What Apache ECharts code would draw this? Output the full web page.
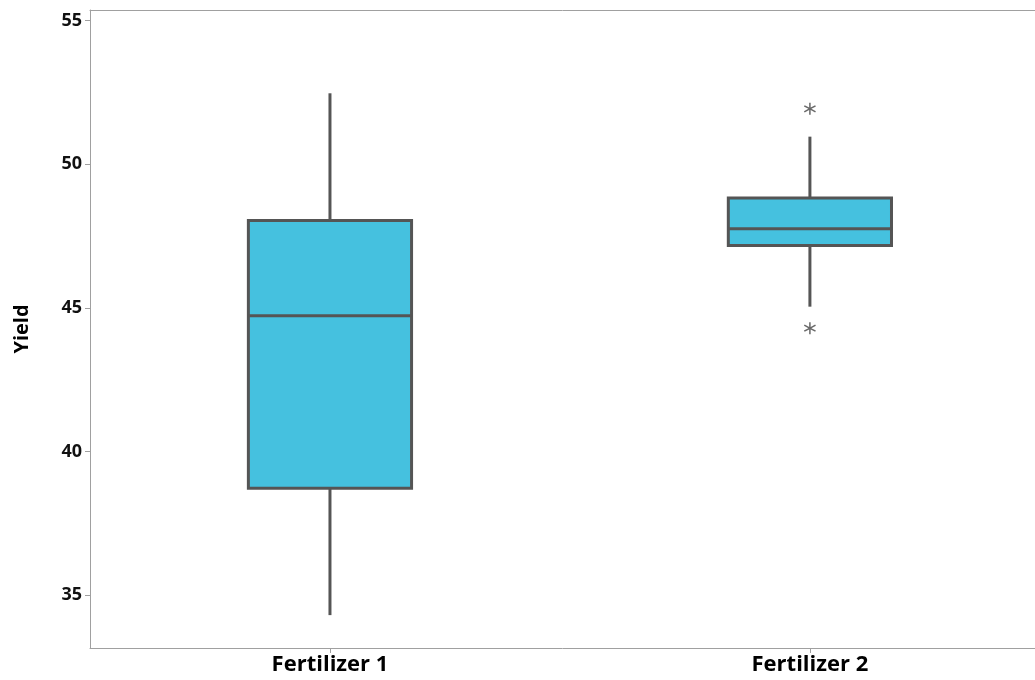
<!DOCTYPE html>
<html>
<head>
<meta charset="utf-8">
<script src="https://cdn.jsdelivr.net/npm/echarts@6/dist/echarts.min.js"></script>
<style>html,body{margin:0;padding:0;background:#fff}#c{width:1035px;height:680px}</style>
</head>
<body>
<div id="c"></div>
<script>
var categories = ['Fertilizer 1', 'Fertilizer 2'];
// [whiskerLow, Q1, median, Q3, whiskerHigh]
var boxStats = [
  [34.3, 38.72, 44.72, 48.04, 52.47],
  [45.04, 47.17, 47.75, 48.82, 50.96]
];
var outliers = [
  [1, 51.93],
  [1, 44.29]
];
var yTicks = [35, 40, 45, 50, 55];
var xTicks = [0, 1];

var boxData = boxStats.map(function (s, i) { return [i].concat(s); });
var asterisk = 'path://M5.3,0 L6.7,0 L6.7,4.8 L10.85,2.4 L11.55,3.6 L7.4,6 L11.55,8.4 L10.85,9.6 L6.7,7.2 L6.7,12 L5.3,12 L5.3,7.2 L1.15,9.6 L0.45,8.4 L4.6,6 L0.45,3.6 L1.15,2.4 L5.3,4.8 Z';

var chart = echarts.init(document.getElementById('c'), null, {renderer: 'canvas'});
var font = '"Open Sans", "Noto Sans", sans-serif';
var axisGrey = '#a0a0a0';
chart.setOption({
  backgroundColor: '#ffffff',
  animation: false,
  grid: {left: 90, top: 10, right: 0, bottom: 32, show: false},
  xAxis: [{
    type: 'value',
    min: -0.5,
    max: 1.469,
    axisLine: {show: true, onZero: false, lineStyle: {color: axisGrey, width: 1}},
    axisTick: {show: true, length: 5, lineStyle: {color: axisGrey}, customValues: xTicks},
    axisLabel: {
      color: '#000', fontSize: 22, fontWeight: 'bold', fontFamily: font, margin: 6,
      customValues: xTicks,
      formatter: function (v) { return categories[Math.round(v)] || ''; }
    },
    splitLine: {show: false}
  }, {
    type: 'value',
    position: 'top',
    min: -0.5,
    max: 1.469,
    axisLine: {show: true, onZero: false, lineStyle: {color: axisGrey, width: 1}},
    axisTick: {show: false},
    axisLabel: {show: false},
    splitLine: {show: false}
  }],
  yAxis: {
    type: 'value',
    min: 33.155,
    max: 55.37,
    name: 'Yield',
    nameLocation: 'middle',
    nameGap: 58,
    nameRotate: 90,
    nameTextStyle: {color: '#000', fontSize: 20, fontWeight: 'bold', fontFamily: font},
    axisLine: {show: true, onZero: false, lineStyle: {color: axisGrey, width: 1}},
    axisTick: {show: true, length: 5, lineStyle: {color: axisGrey}, customValues: yTicks},
    axisLabel: {
      color: '#111', fontSize: 18, fontWeight: 'bold', fontFamily: '"Noto Sans", "Open Sans", sans-serif', margin: 8,
      customValues: yTicks
    },
    splitLine: {show: false}
  },
  series: [
    {
      type: 'custom',
      data: boxData,
      encode: {x: 0, y: [1, 2, 3, 4, 5]},
      renderItem: function (params, api) {
        var c = api.value(0);
        var lo = api.coord([c, api.value(1)]);
        var q1 = api.coord([c, api.value(2)]);
        var md = api.coord([c, api.value(3)]);
        var q3 = api.coord([c, api.value(4)]);
        var hi = api.coord([c, api.value(5)]);
        var half = api.size([0.34, 0])[0] / 2;
        var x = lo[0];
        var stroke = {stroke: '#555555', lineWidth: 3, fill: null};
        return {
          type: 'group',
          children: [
            {type: 'line', shape: {x1: x, y1: hi[1], x2: x, y2: q3[1]}, style: stroke},
            {type: 'line', shape: {x1: x, y1: q1[1], x2: x, y2: lo[1]}, style: stroke},
            {type: 'rect', shape: {x: x - half, y: q3[1], width: half * 2, height: q1[1] - q3[1]},
              style: {fill: '#45C1DF', stroke: '#555555', lineWidth: 3}},
            {type: 'line', shape: {x1: x - half, y1: md[1], x2: x + half, y2: md[1]}, style: stroke}
          ]
        };
      }
    },
    {
      type: 'scatter',
      data: outliers,
      symbol: asterisk,
      symbolSize: 12,
      itemStyle: {color: '#444444'}
    }
  ]
});
</script>
</body>
</html>
